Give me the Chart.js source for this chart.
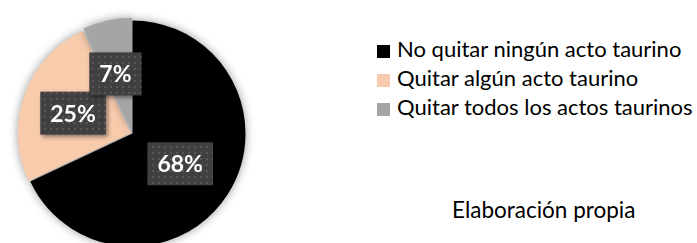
<!DOCTYPE html>
<html lang="es">
<head>
<meta charset="utf-8">
<script src="https://cdn.jsdelivr.net/npm/chart.js@4"></script>
<style>
  html, body { margin: 0; padding: 0; background: #fff; }
  body { width: 697px; height: 243px; overflow: hidden; position: relative; font-family: Lato, 'Open Sans', sans-serif; }
  #pieBox { position: absolute; left: 0; top: 0; width: 266px; height: 266px; }
  #legend { position: absolute; left: 377px; top: 34px; }
  .item { position: relative; height: 29px; line-height: 29px; padding-left: 20px; font-size: 22px; color: #000; white-space: nowrap; }
  .item span.sw { position: absolute; left: 0; top: 11px; width: 13px; height: 13px; }
  #note { position: absolute; left: 452px; top: 200px; font-size: 22.5px; line-height: 20px; color: #000; white-space: nowrap; }
</style>
</head>
<body>
<div id="pieBox"><canvas id="chart-pie"></canvas></div>
<div id="legend"></div>
<div id="note">Elaboración propia</div>
<script>
// --- Data ---
const labels = ['No quitar ningún acto taurino', 'Quitar algún acto taurino', 'Quitar todos los actos taurinos'];
const values = [68, 25, 7];
const colors = ['#000000', '#F8CBAD', '#A5A5A5'];
const offsets = [0, 7, 7];

// --- Legend (html) ---
const legendEl = document.getElementById('legend');
labels.forEach((l, i) => {
    const row = document.createElement('div');
    row.className = 'item';
    row.innerHTML = `<span class="sw" style="background:${colors[i]}"></span>${l}`;
    legendEl.appendChild(row);
});

// --- Dotted pattern for label boxes ---
function makePattern(ctx) {
    const c = document.createElement('canvas');
    c.width = 6; c.height = 6;
    const p = c.getContext('2d');
    p.fillStyle = '#404040';
    p.fillRect(0, 0, 6, 6);
    p.fillStyle = '#575757';
    p.fillRect(2, 2, 2, 2);
    return ctx.createPattern(c, 'repeat');
}

// --- Plugins ---
const pieShadow = {
    id: 'pieShadow',
    beforeDatasetsDraw(chart) {
        const ctx = chart.ctx;
        ctx.save();
        ctx.shadowColor = 'rgba(0,0,0,0.4)';
        ctx.shadowBlur = 10;
    },
    afterDatasetsDraw(chart) {
        chart.ctx.restore();
    }
};

const boxLabels = {
    id: 'boxLabels',
    afterDatasetsDraw(chart) {
        const ctx = chart.ctx;
        const meta = chart.getDatasetMeta(0);
        const pattern = makePattern(ctx);
        ctx.save();
        ctx.font = "bold 23px Lato, 'Open Sans', sans-serif";
        ctx.textAlign = 'center';
        ctx.textBaseline = 'middle';
        meta.data.forEach((arc, i) => {
            const pt = arc.getCenterPoint();
            const x = pt.x - (i === 2 ? 4 : (i === 1 ? 3 : 0));
            const y = pt.y - (i === 2 ? 1 : 0);
            const txt = values[i] + '%';
            const w = ctx.measureText(txt).width + 20;
            const h = 43;
            ctx.save();
            ctx.shadowColor = 'rgba(0,0,0,0.45)';
            ctx.shadowBlur = 4;
            ctx.shadowOffsetX = 2;
            ctx.shadowOffsetY = 2;
            ctx.fillStyle = pattern;
            ctx.fillRect(x - w / 2, y - h / 2, w, h);
            ctx.restore();
            ctx.fillStyle = '#ffffff';
            ctx.fillText(txt, x, y + 1);
        });
        ctx.restore();
    }
};

// --- Chart ---
const ctx = document.getElementById('chart-pie').getContext('2d');
new Chart(ctx, {
    type: 'pie',
    data: {
        labels: labels,
        datasets: [{ data: values, backgroundColor: colors, borderWidth: 0, offset: offsets, hoverOffset: 0 }]
    },
    options: {
        responsive: true, maintainAspectRatio: false, animation: false,
        layout: { padding: { top: 17, left: 16, right: 17, bottom: 16 } },
        plugins: { legend: { display: false }, tooltip: { enabled: false } },
        events: []
    },
    plugins: [pieShadow, boxLabels]
});
</script>
</body>
</html>
